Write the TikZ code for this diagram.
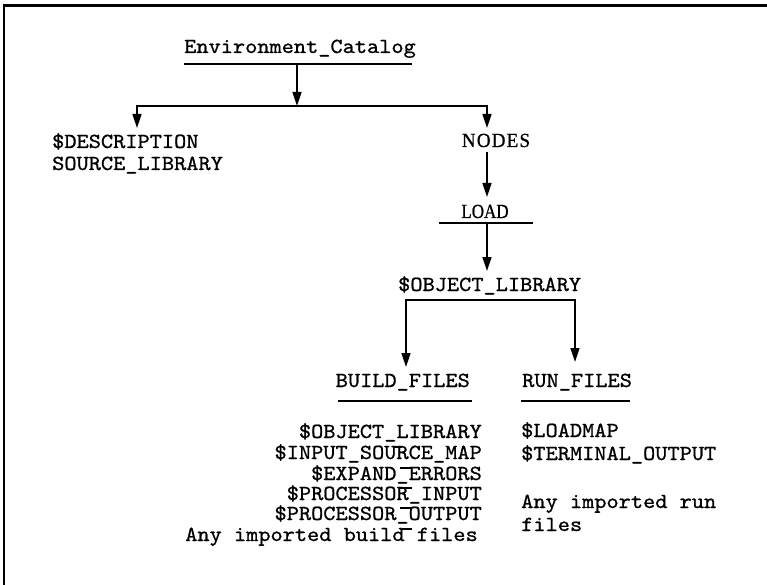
\documentclass[tikz,border=0pt]{standalone}
\usepackage{fontspec}
\usetikzlibrary{arrows.meta}
\newfontfamily\twfont{lmmono10-regular.otf}[FakeStretch=1.08,FakeBold=0.9]
\newfontfamily\srfont{Liberation Serif}[FakeStretch=0.85,FakeBold=0.8]
\newfontfamily\srsfont{Liberation Serif}[FakeStretch=0.95,LetterSpace=6,FakeBold=0.8]
\begin{document}
\begin{tikzpicture}[x=1bp,y=-1bp,
  tw/.style={font=\twfont\fontsize{21.5bp}{24bp}\selectfont, inner sep=0pt},
  sr/.style={font=\srfont\fontsize{20bp}{22bp}\selectfont, inner sep=0pt},
  srs/.style={font=\srsfont\fontsize{20bp}{22bp}\selectfont, inner sep=0pt},
  ln/.style={line width=1.6bp},
  arr/.style={ln, -{Triangle[length=14bp,width=9bp]}},
  dbl/.style={ln, {Triangle[length=14bp,width=9bp]}-{Triangle[length=14bp,width=9bp]}},
  glitch/.style={line width=1.4bp}
]
\useasboundingbox (0,0) rectangle (767,585);
% frame
\draw[line width=3bp] (3,6) -- (767,6);
\draw[line width=2bp] (4,4.5) -- (4,585);

% top node
\node[tw, anchor=base west] (env) at (184,53) {Environment\_Catalog};
\coordinate (envL) at (184,64);
\coordinate (envR) at (412,64);
\draw[ln] (envL) -- (envR);
\coordinate (eA) at (297,64);
\coordinate (j1) at (297,106);
\draw[arr] (eA) -- (j1);
\coordinate (jL) at (137,106);
\coordinate (jR) at (487,106);
\coordinate (tL) at (137,128);
\coordinate (tR) at (487,128);
\draw[dbl] (tL) -- (jL) -- (jR) -- (tR);

% left branch
\node[tw, anchor=base west] (desc1) at (52,148) {\$DESCRIPTION};
\node[tw, anchor=base west] (desc2) at (52,170) {SOURCE\_LIBRARY};

% NODES / LOAD
\node[srs, anchor=base] (nodes) at (496,147) {NODES};
\coordinate (nA) at (487,152);
\coordinate (nB) at (487,197);
\draw[arr] (nA) -- (nB);
\node[sr, anchor=base] (load) at (485,218) {LOAD};
\coordinate (lL) at (439,223);
\coordinate (lR) at (533,223);
\draw[ln] (lL) -- (lR);
\coordinate (lA) at (487,223);
\coordinate (lB) at (487,271);
\draw[arr] (lA) -- (lB);

% object library
\node[tw, anchor=base west] (obj) at (398,291) {\$OBJECT\_LIBRARY};
\coordinate (oL) at (406,300);
\coordinate (oR) at (575,300);
\coordinate (bT) at (406,367);
\coordinate (rT) at (575,362);
\draw[dbl] (bT) -- (oL) -- (oR) -- (rT);

% build / run
\node[tw, anchor=base east] (build) at (470,387) {BUILD\_FILES};
\coordinate (buL) at (338,401);
\coordinate (buR) at (472,401);
\draw[ln] (buL) -- (buR);
\node[tw, anchor=base west] (run) at (522,387) {RUN\_FILES};
\coordinate (ruL) at (521,401);
\coordinate (ruR) at (630,401);
\draw[ln] (ruL) -- (ruR);

% build list
\node[tw, anchor=base east] (b1) at (482,438) {\$OBJECT\_LIBRARY};
\node[tw, anchor=base east] (b2) at (482,459) {\$INPUT\_SOURCE\_MAP};
\node[tw, anchor=base east] (b3) at (482,480) {\$EXPAND\_ERRORS};
\node[tw, anchor=base east] (b4) at (482,500) {\$PROCESSOR\_INPUT};
\node[tw, anchor=base east] (b5) at (482,520) {\$PROCESSOR\_OUTPUT};
\node[tw, anchor=base east] (b6) at (478,541) {Any imported build files};
% stray typewriter marks
\draw[glitch] (393,447) -- (402,447);
\draw[glitch] (400,468) -- (412,468);
\draw[glitch] (400,488) -- (412,488);
\draw[glitch] (400,508) -- (412,508);
\draw[glitch] (400,529) -- (412,529);

% run list
\node[tw, anchor=base west] (r1) at (521,437) {\$LOADMAP};
\node[tw, anchor=base west] (r2) at (521,460) {\$TERMINAL\_OUTPUT};
\node[tw, anchor=base west] (r3) at (521,508) {Any imported run};
\node[tw, anchor=base west] (r4) at (521,531) {files};
\end{tikzpicture}
\end{document}
